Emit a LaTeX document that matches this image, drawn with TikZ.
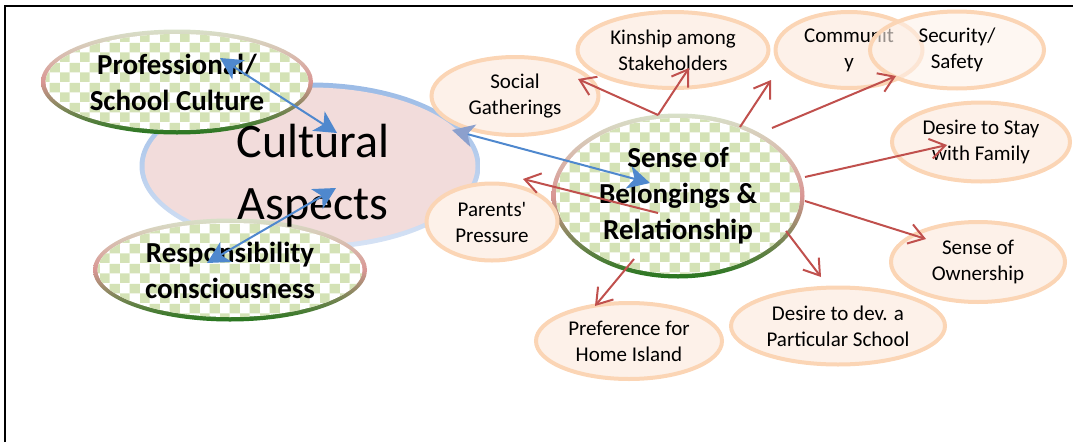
\documentclass[tikz,border=0pt]{standalone}
\usepackage{fontspec}
\setmainfont{Carlito}
\usetikzlibrary{arrows.meta,shapes.geometric,calc,patterns.meta}

\definecolor{peachline}{RGB}{251,213,181}
\definecolor{peachfill}{RGB}{253,241,233}
\definecolor{culfill}{RGB}{242,220,219}
\definecolor{cultop}{RGB}{155,187,230}
\definecolor{culbot}{RGB}{215,227,245}
\definecolor{checkgreen}{RGB}{212,226,182}
\definecolor{rimtop}{RGB}{216,224,200}
\definecolor{rimside}{RGB}{217,150,148}
\definecolor{rimbot}{RGB}{38,118,30}
\definecolor{linkblue}{RGB}{79,136,206}
\definecolor{fadeblue}{RGB}{140,160,205}
\definecolor{linkred}{RGB}{192,80,77}

\newcommand{\leaffont}{\fontsize{21}{26}\selectfont}
\newcommand{\hubfont}{\fontsize{29}{36}\selectfont\bfseries}
\newcommand{\titlefont}{\fontsize{48}{62}\selectfont}

\tikzdeclarepattern{
  name=greenchecks,
  type=colored,
  bounding box={(0pt,0pt) and (20pt,20pt)},
  tile size={(20pt,20pt)},
  code={
    \fill[checkgreen] (0pt,0pt) rectangle (10pt,10pt);
    \fill[checkgreen] (10pt,10pt) rectangle (20pt,20pt);
  }
}

\tikzset{
  cultbox/.style={ellipse, minimum width=341pt, minimum height=167pt, inner sep=0pt,
    top color=cultop, bottom color=culbot,
    path picture={\fill[culfill] (path picture bounding box.center) ellipse [x radius=165.5pt, y radius=78.5pt];}},
  checkbox/.style 2 args={ellipse, minimum width=#1, minimum height=#2, inner sep=0pt,
    top color=rimtop, bottom color=rimbot, middle color=rimside,
    path picture={
      \fill[white] (path picture bounding box.center) ellipse [x radius=#1/2-4.5pt, y radius=#2/2-4.5pt];
      \fill[pattern=greenchecks] (path picture bounding box.center) ellipse [x radius=#1/2-4.5pt, y radius=#2/2-4.5pt];},
    align=center, font=\hubfont},
  leafbox/.style 2 args={ellipse, draw=peachline, line width=4pt, fill=peachfill,
    minimum width=#1, minimum height=#2, inner sep=0pt, align=center, font=\leaffont},
  bluelink/.style={draw=linkblue, line width=2pt,
    arrows={Stealth[length=22pt,width=23pt,inset=6pt]-Stealth[length=22pt,width=23pt,inset=6pt]}},
  redlink/.style={draw=linkred, line width=2pt, arrows={-Straight Barb[length=15pt,width=20pt]}}
}

\begin{document}
\begin{tikzpicture}[x=1pt,y=-1pt]
  \useasboundingbox (0,0) rectangle (1073,442);
  \draw[line width=2pt] (5,442) -- (5,6) -- (1073,6);

  % left side
  \node (cult) at (310,166) [cultbox] {};
  \node (prof) at (177,82) [checkbox={272pt}{105pt}] {Professional/\\School Culture};
  \node (resp) at (230,270) [checkbox={274pt}{103pt}] {Responsibility\\consciousness};
  \node (cultlabel) at (313,176) [font=\titlefont, align=center] {Cultural\\Aspects};

  % hub and its leaves
  \node (sense) at (678,196) [checkbox={253pt}{165pt}] {Sense of\\Belongings \&\\Relationship};
  \node (social) at (515,96) [leafbox={167pt}{78pt}] {Social\\Gatherings};
  \node (kinship) at (673,50) [leafbox={191pt}{76pt}] {Kinship among\\Stakeholders};
  \node (community) at (849,50) [leafbox={147pt}{76pt}] {Communit\\y};
  \node (security) at (957,50) [leafbox={174pt}{77pt}, fill opacity=0.6, text opacity=1] {Security/\\Safety};
  \node (stay) at (981,142) [leafbox={178pt}{79pt}] {Desire to Stay\\with Family};
  \node (ownership) at (978,262) [leafbox={174pt}{80pt}] {Sense of\\Ownership};
  \node (devschool) at (838,326) [leafbox={214pt}{77pt}] {Desire to dev. a\\Particular School};
  \node (preference) at (629,341) [leafbox={186pt}{76pt}] {Preference for\\Home Island};
  \node (parents) at (492,222) [leafbox={131pt}{77pt}] {Parents\textquotesingle\\Pressure};

  \draw[redlink] ($(sense)+(-20,-81)$) -- ($(social)+(63,-17)$);
  \draw[redlink] ($(sense)+(-20,-81)$) -- ($(kinship)+(16,18)$);
  \draw[redlink] ($(sense)+(62,-69)$) -- ($(community)+(-78,30)$);
  \draw[redlink] ($(sense)+(94,-68)$) -- ($(security)+(-61,26)$);
  \draw[redlink] ($(sense)+(127,-19)$) -- ($(stay)+(-34,3)$);
  \draw[redlink] ($(sense)+(127,5)$) -- ($(ownership)+(-52,-23)$);
  \draw[redlink] ($(sense)+(108,35)$) -- ($(devschool)+(-17,-49)$);
  \draw[redlink] ($(sense)+(-44,63)$) -- ($(preference)+(-34,-35)$);
  \draw[redlink] ($(sense)+(-20,17)$) -- ($(parents)+(31,-43)$);

  \draw[bluelink] ($(prof)+(43,-24)$) -- ($(cult)+(27,-33)$);
  \draw[bluelink] ($(cult)+(26,22)$) -- ($(resp)+(-23,-7)$);
  \draw[bluelink, arrows={Stealth[length=22pt,width=23pt,inset=6pt,fadeblue]-Stealth[length=22pt,width=23pt,inset=6pt]}] ($(cult)+(142,-36)$) -- ($(sense)+(-28,-13)$);
\end{tikzpicture}
\end{document}
